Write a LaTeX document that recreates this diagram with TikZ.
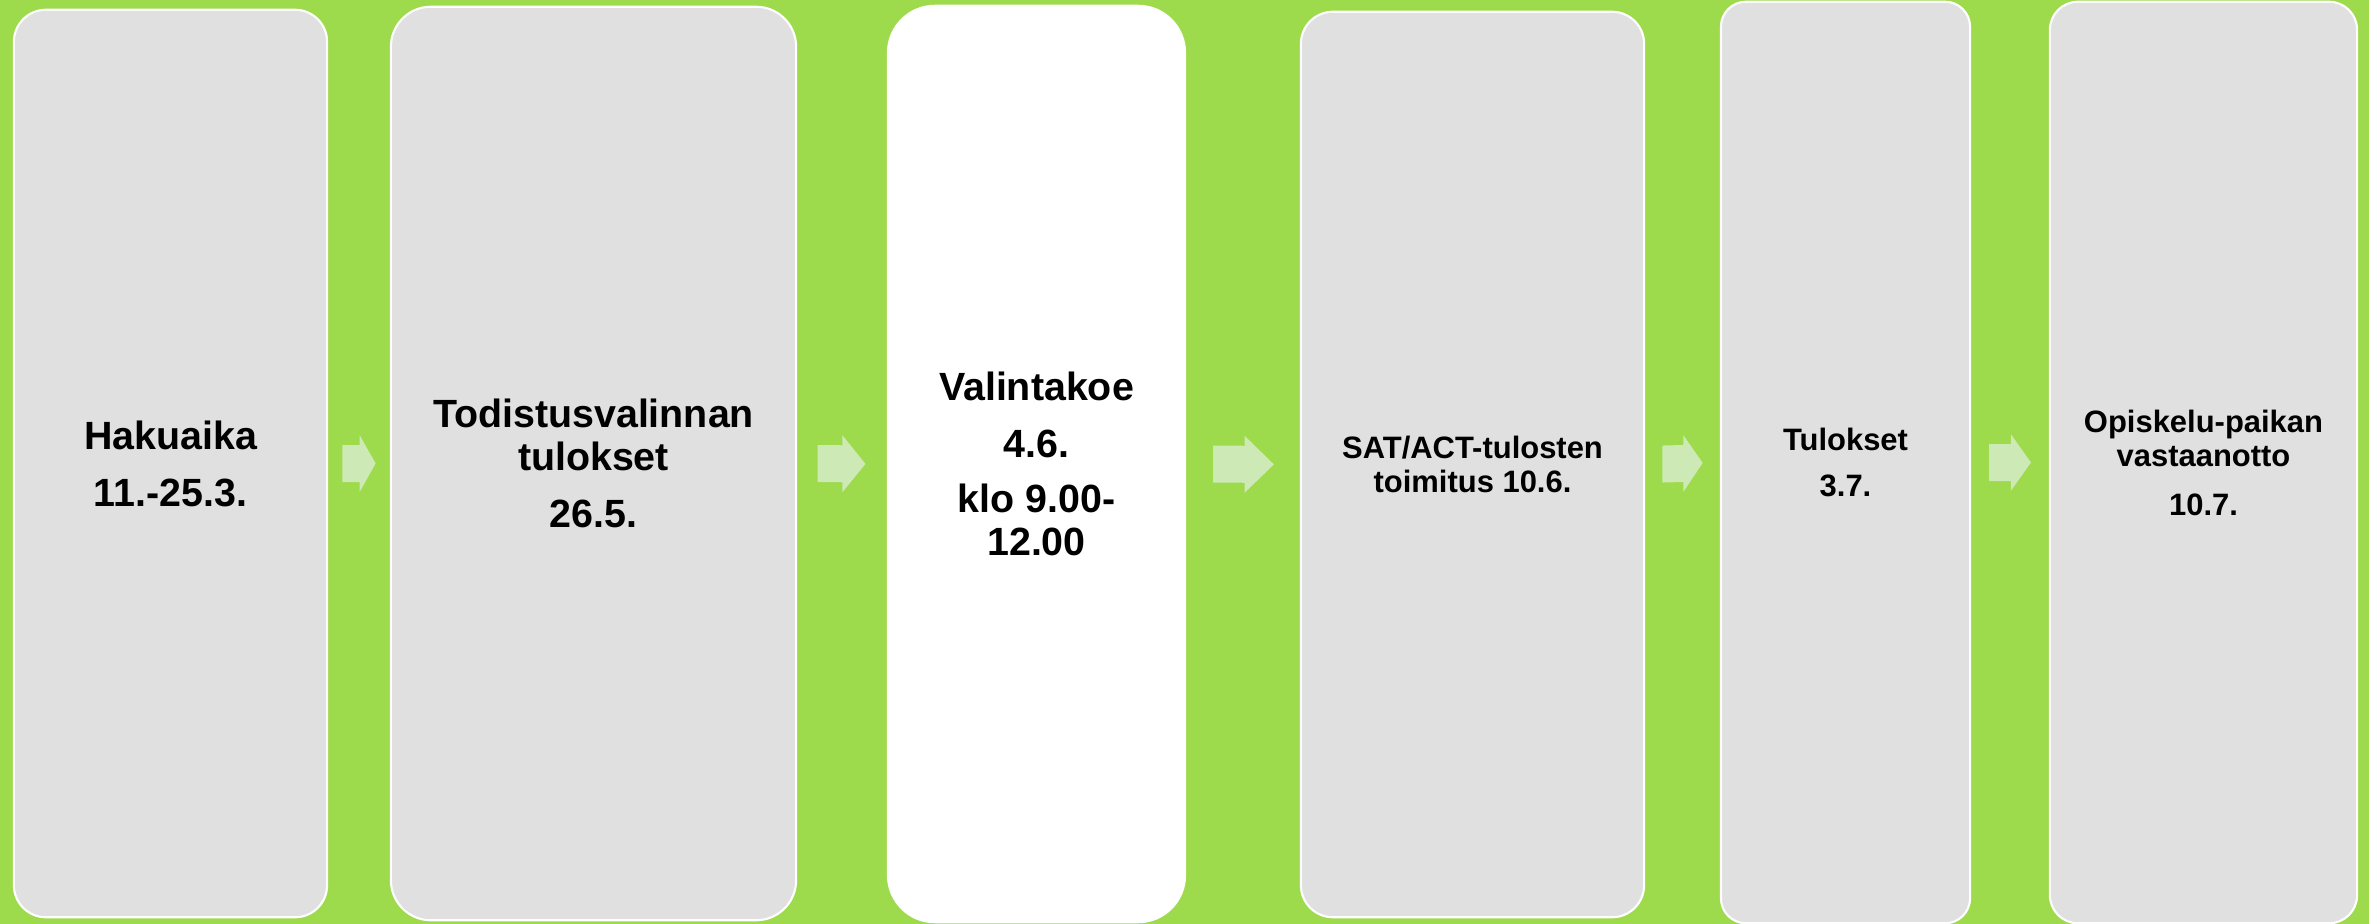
\documentclass[tikz,border=0pt]{standalone}
\usepackage{fontspec}
\setmainfont{Liberation Sans}
\usetikzlibrary{calc}
\definecolor{bg_green}{HTML}{9DDA4C}
\definecolor{box_gray}{HTML}{E0E0E0}
\definecolor{arrow_green}{HTML}{CDE9B6}

\tikzset{
    phase/.style={rectangle, draw=white, line width=0.6pt, fill=box_gray, inner sep=0pt, align=center},
    keyphase/.style={phase, draw=none, fill=white},
    bigtxt/.style={font=\fontsize{11.2}{12.2}\selectfont\bfseries},
    smalltxt/.style={font=\fontsize{8.8}{9.7}\selectfont\bfseries},
}

\begin{document}
\begin{tikzpicture}[x=0.01cm, y=-0.01cm]
    % Green background, fixes the page size
    \fill[bg_green] (0,0) rectangle (2369,924);
    \useasboundingbox (0,0) rectangle (2369,924);

    % Phases of the admission timeline
    \node[phase, bigtxt, rounded corners=0.32cm, minimum width=3.13cm, minimum height=9.07cm]
        (haku) at (170.5,463.5) {Hakuaika\\[4pt]11.-25.3.};
    \node[phase, bigtxt, rounded corners=0.40cm, minimum width=4.05cm, minimum height=9.13cm]
        (todistus) at (593.5,463.5) {Todistusvalinnan\\tulokset\\[4pt]26.5.};
    \node[keyphase, bigtxt, rounded corners=0.48cm, minimum width=2.99cm, minimum height=9.18cm]
        (koe) at (1036.5,464) {Valintakoe\\[4pt]4.6.\\[3.6pt]klo 9.00-\\12.00};
    \node[phase, smalltxt, rounded corners=0.32cm, minimum width=3.43cm, minimum height=9.05cm]
        (sat) at (1472.5,464.5) {SAT/ACT-tulosten\\toimitus 10.6.};
    \node[phase, smalltxt, rounded corners=0.25cm, minimum width=2.49cm, minimum height=9.21cm]
        (tulos) at (1845.5,462.5) {Tulokset\\[3.6pt]3.7.};
    \node[phase, smalltxt, rounded corners=0.28cm, minimum width=3.07cm, minimum height=9.21cm]
        (vastaanotto) at (2203.5,462.5) {Opiskelu-paikan\\vastaanotto\\[4.2pt]10.7.};

    % Block arrows in the gaps: tail at 0.23, head at 0.51, tip at 0.77
    \foreach \a/\b in {haku/todistus, todistus/koe, koe/sat, sat/tulos, tulos/vastaanotto} {
        \coordinate (s) at ($(\a.east)!0.23!(\b.west)$);
        \coordinate (h) at ($(\a.east)!0.51!(\b.west)$);
        \coordinate (t) at ($(\a.east)!0.77!(\b.west)$);
        \fill[arrow_green] ($(s)+(0,-18.5)$) -- ($(h)+(0,-18.5)$) -- ($(h)+(0,-28.5)$)
            -- (t) -- ($(h)+(0,28.5)$) -- ($(h)+(0,18.5)$) -- ($(s)+(0,18.5)$) -- cycle;
    }
\end{tikzpicture}
\end{document}
